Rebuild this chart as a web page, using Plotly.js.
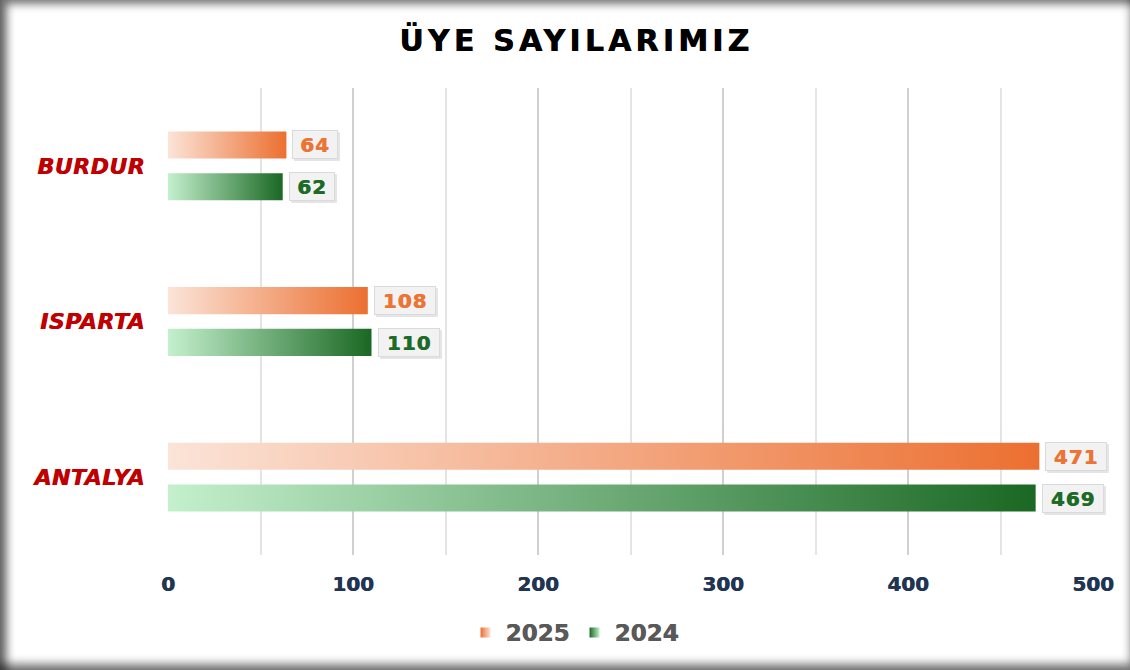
<!DOCTYPE html>
<html>
<head>
<meta charset="utf-8">
<script src="https://cdn.plot.ly/plotly-3.0.1.min.js"></script>
<style>
  html, body { margin: 0; padding: 0; background: #ffffff; }
  #frame { position: relative; width: 1130px; height: 670px; background: #ffffff; overflow: hidden; }
  #chart { position: absolute; left: 0; top: 0; width: 1130px; height: 670px; }
  #shade { position: absolute; left: 0; top: 0; width: 1130px; height: 670px; pointer-events: none;
           box-shadow: inset 8px 5px 8px -1px rgba(0,0,0,0.55), inset -1px -8px 10px -2px rgba(0,0,0,0.55); }
  #chart .gtitle { letter-spacing: 4.2px; }
  #chart .ytick text { letter-spacing: 0.5px; }
  #chart .annotation-text { letter-spacing: 1px; }
</style>
</head>
<body>
<div id="frame"><div id="chart"></div><div id="shade"></div></div>
<script>
// ---- data ----
const categories = ['ANTALYA', 'ISPARTA', 'BURDUR'];
const seriesNames = ['2025', '2024'];
const values2025 = [471, 108, 64];
const values2024 = [469, 110, 62];
const xTickValues = [0, 100, 200, 300, 400, 500];

// ---- styling ----
const seriesStyle = {
  '2025': { offset: 0.134, light: '#FBE4D8', dark: '#EC6F30', text: '#EC7434' },
  '2024': { offset: -0.134, light: '#C4F0CD', dark: '#1A6823', text: '#1E6B28' }
};
const halfBar = 0.087;
const FONT = 'DejaVu Sans, Verdana, sans-serif';
function thick(c) { return '0.6px 0 0 ' + c; }

const traces = [];
const annotations = [];
const seriesValues = { '2025': values2025, '2024': values2024 };

seriesNames.forEach(function (name) {
  const st = seriesStyle[name];
  const vals = seriesValues[name];
  vals.forEach(function (v, i) {
    const yc = i + st.offset;
    traces.push({
      type: 'scatter',
      mode: 'lines',
      name: name,
      legendgroup: name,
      showlegend: false,
      x: [0, v, v, 0, 0],
      y: [yc - halfBar, yc - halfBar, yc + halfBar, yc + halfBar, yc - halfBar],
      fill: 'toself',
      line: { width: 0, color: st.dark },
      fillcolor: st.dark,
      fillgradient: { type: 'horizontal', colorscale: [[0, st.light], [1, st.dark]] },
      hoveron: 'fills',
      text: categories[i] + ' ' + name + ': ' + v,
      hoverinfo: 'text'
    });
    const label = String(v);
    const boxW = 16 * label.length + 6;
    // soft shadow behind the label box
    annotations.push({
      x: v, y: yc, xref: 'x', yref: 'y',
      text: ' ', showarrow: false,
      xanchor: 'left', yanchor: 'middle',
      xshift: 8, yshift: -2,
      width: boxW, height: 21,
      bgcolor: 'rgba(0,0,0,0.10)', borderpad: 3, borderwidth: 1,
      bordercolor: 'rgba(0,0,0,0.05)'
    });
    annotations.push({
      x: v, y: yc, xref: 'x', yref: 'y',
      text: '<b>' + label + '</b>',
      showarrow: false,
      xanchor: 'left', yanchor: 'middle',
      xshift: 6,
      width: boxW, height: 21,
      font: { family: FONT, size: 20, color: st.text, shadow: thick(st.text) },
      bgcolor: '#F2F2F2',
      bordercolor: '#DADADA',
      borderwidth: 1,
      borderpad: 3
    });
  });
  // legend entry: small gradient square
  traces.push({
    type: 'scatter', mode: 'markers', name: name, legendgroup: name,
    showlegend: true, x: [null], y: [null], hoverinfo: 'skip',
    marker: { symbol: 'square', size: 10, color: st.dark,
              gradient: { type: 'horizontal', color: st.light } }
  });
});

const layout = {
  width: 1130, height: 670,
  paper_bgcolor: 'rgba(0,0,0,0)',
  plot_bgcolor: 'rgba(0,0,0,0)',
  margin: { l: 168, r: 37, t: 88, b: 115 },
  title: {
    text: '<b>ÜYE SAYILARIMIZ</b>',
    x: 0.51, xanchor: 'center', xref: 'container',
    y: 0.94, yanchor: 'middle',
    font: { family: FONT, size: 30, color: '#000000', shadow: thick('#000000') }
  },
  xaxis: {
    range: [0, 500],
    tickvals: xTickValues,
    ticktext: xTickValues.map(String),
    tickfont: { family: FONT, size: 20, color: '#1F3552', weight: 'bold', shadow: thick('#1F3552') },
    showgrid: true, gridcolor: '#D0D0D0', gridwidth: 1.5,
    minor: { dtick: 50, showgrid: true, gridcolor: '#E4E4E4', gridwidth: 1.5 },
    zeroline: false, showline: false,
    ticks: '', ticklabelstandoff: 15,
    fixedrange: true
  },
  yaxis: {
    range: [-0.5, 2.5],
    tickvals: [0, 1, 2],
    ticktext: categories.map(function (c) { return '<b><i>' + c + '</i></b>'; }),
    tickfont: { family: FONT, size: 22, color: '#C00000', shadow: thick('#C00000') },
    showgrid: false, zeroline: false, showline: false,
    ticks: '', ticklabelstandoff: 22,
    fixedrange: true
  },
  legend: {
    orientation: 'h',
    x: 0.44, xanchor: 'center',
    y: -0.12, yanchor: 'top',
    font: { family: FONT, size: 23, color: '#595959', weight: 'bold', shadow: thick('#595959') },
    itemwidth: 30,
    traceorder: 'normal'
  },
  annotations: annotations,
  hovermode: 'closest'
};

Plotly.newPlot('chart', traces, layout, { displayModeBar: false, responsive: false });
</script>
</body>
</html>
